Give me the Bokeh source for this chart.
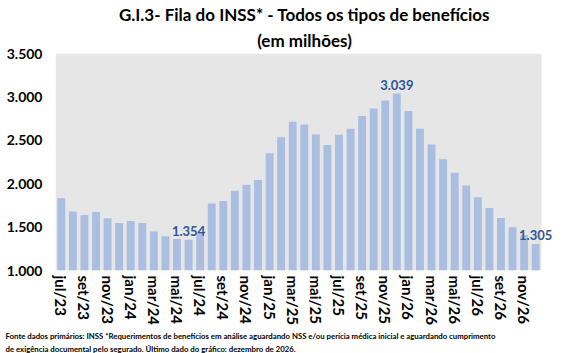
from bokeh.plotting import figure
from bokeh.models import ColumnDataSource, FixedTicker, LabelSet, Title, Range1d, BoxAnnotation
from bokeh.core.properties import value
from bokeh.embed import file_html
from bokeh.resources import INLINE

months = ["jul/23", "ago/23", "set/23", "out/23", "nov/23", "dez/23",
          "jan/24", "fev/24", "mar/24", "abr/24", "mai/24", "jun/24",
          "jul/24", "ago/24", "set/24", "out/24", "nov/24", "dez/24",
          "jan/25", "fev/25", "mar/25", "abr/25", "mai/25", "jun/25",
          "jul/25", "ago/25", "set/25", "out/25", "nov/25", "dez/25",
          "jan/26", "fev/26", "mar/26", "abr/26", "mai/26", "jun/26",
          "jul/26", "ago/26", "set/26", "out/26", "nov/26", "dez/26"]
values = [1832, 1679, 1640, 1675, 1602, 1548, 1571, 1548, 1449, 1395, 1364, 1354,
          1440, 1771, 1801, 1920, 1989, 2043, 2350, 2534, 2714, 2683, 2568, 2446,
          2564, 2633, 2779, 2867, 2959, 3039, 2837, 2633, 2453, 2281, 2127, 1978,
          1844, 1721, 1606, 1498, 1410, 1305]
labeled_months = ["jun/24", "dez/25", "dez/26"]
labeled_texts = ["1.354", "3.039", "1.305"]
y_ticks = [1000, 1500, 2000, 2500, 3000, 3500]
y_tick_labels = ["1.000", "1.500", "2.000", "2.500", "3.000", "3.500"]
title_line1 = "G.I.3- Fila do INSS* - Todos os tipos de benefícios"
title_line2 = "(em milhões)"
note_line1 = ("Fonte dados primários: INSS *Requerimentos de benefícios em análise aguardando NSS "
              "e/ou perícia médica inicial e aguardando cumprimento")
note_line2 = "de exigência documental pelo segurado. Último dado do gráfico: dezembro de 2026."

FONT = "Lato"
n = len(months)
idx = list(range(n))
src = ColumnDataSource(dict(x=idx, top=values))
lab_idx = [months.index(m) for m in labeled_months]
lab_src = ColumnDataSource(dict(x=lab_idx, y=[values[i] for i in lab_idx], text=labeled_texts))

p = figure(width=567, height=353, output_backend="svg", toolbar_location=None,
           x_range=Range1d(-0.5, n + 0.54), y_range=Range1d(y_ticks[0], y_ticks[-1]),
           min_border_left=55, min_border_right=14, min_border_top=53, min_border_bottom=81)

p.background_fill_color = "white"
p.border_fill_color = "white"
p.outline_line_color = None
p.grid.grid_line_color = None

p.add_layout(BoxAnnotation(left=-0.5, right=n - 0.5, bottom=y_ticks[0], top=y_ticks[-1],
                           fill_color="#E6E6E6", fill_alpha=1, line_color=None, level="underlay"))

p.vbar(x="x", top="top", bottom=y_ticks[0], width=0.68, source=src,
       fill_color="#AABEE1", line_color=None)

labels = LabelSet(x="x", y="y", text="text", source=lab_src, text_align="center",
                  text_baseline="bottom", y_offset=4, text_font=value(FONT),
                  text_font_size=value("13px"), text_font_style=value("bold"),
                  text_color=value("#2F5597"))
p.add_layout(labels)

p.yaxis.ticker = FixedTicker(ticks=y_ticks)
p.yaxis.major_label_overrides = dict(zip(y_ticks, y_tick_labels))
p.xaxis.ticker = FixedTicker(ticks=idx[::2])
p.xaxis.major_label_overrides = {i: months[i] for i in idx[::2]}
p.xaxis.major_label_orientation = "vertical"
for ax in (p.xaxis, p.yaxis):
    ax.axis_line_color = None
    ax.major_tick_line_color = None
    ax.minor_tick_line_color = None
    ax.major_tick_out = 0
    ax.major_tick_in = 0
    ax.major_label_text_font = FONT
    ax.major_label_text_font_style = "bold"
    ax.major_label_text_color = "black"
    ax.major_label_text_font_size = "14px"
p.xaxis.major_label_text_font_size = "15px"
p.yaxis.major_label_standoff = 13
p.xaxis.major_label_standoff = 5

p.add_layout(Title(text=title_line2, align="center", offset=-14, standoff=6,
                   text_font=FONT, text_font_size="17px", text_font_style="bold",
                   text_color="black", text_line_height=1.0), "above")
p.add_layout(Title(text=title_line1, align="center", offset=-14, standoff=0,
                   text_font=FONT, text_font_size="17px", text_font_style="bold",
                   text_color="black", text_line_height=1.0), "above")
p.add_layout(Title(text=note_line1, align="left", offset=-50, standoff=1, text_font=FONT,
                   text_font_size="7.8px", text_font_style="bold", text_color="black",
                   text_line_height=1.0), "below")
p.add_layout(Title(text=note_line2, align="left", offset=-50, standoff=0, text_font=FONT,
                   text_font_size="7.8px", text_font_style="bold", text_color="black",
                   text_line_height=1.0), "below")

open("out.html", "w").write(file_html(p, INLINE))
